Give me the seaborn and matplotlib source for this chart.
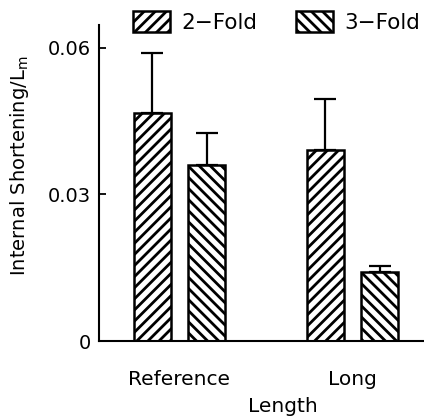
import pandas as pd
import numpy as np
import seaborn as sns
import matplotlib.pyplot as plt

# ===============================================================
# Dados
# ===============================================================

lengths = ["Reference", "Long"]
folds = ["2\u2212Fold", "3\u2212Fold"]
hatches = ["///", "\\\\\\"]

mean_2fold = [0.0467, 0.0391]
mean_3fold = [0.0360, 0.0141]
err_2fold = [0.0123, 0.0105]
err_3fold = [0.0066, 0.0013]

y_ticks = [0, 0.03, 0.06]
y_ticklabels = ["0", "0.03", "0.06"]

df = pd.DataFrame({
    "Length": lengths * 2,
    "Fold": [folds[0]] * 2 + [folds[1]] * 2,
    "value": mean_2fold + mean_3fold,
})
errs = [err_2fold, err_3fold]

# ===============================================================
# Estilo
# ===============================================================

sns.set_style("ticks")
plt.rcParams["font.family"] = ["DejaVu Sans"]
plt.rcParams["hatch.linewidth"] = 2.0
plt.rcParams["axes.linewidth"] = 1.5
for k in ["text.color", "axes.labelcolor", "xtick.color", "ytick.color",
          "axes.edgecolor"]:
    plt.rcParams[k] = "black"

fig = plt.figure(figsize=(4.24, 4.19), dpi=100)
ax = fig.add_axes([99 / 424, 78 / 419, 325 / 424, 316 / 419])

sns.barplot(data=df, x="Length", y="value", hue="Fold", hue_order=folds,
            order=lengths, palette=["white", "white"], edgecolor="black",
            linewidth=1.8, width=0.625, gap=0.315, errorbar=None,
            legend=False, ax=ax)

# hachuras + barras de erro (só para cima)
for cont, hatch, err in zip(ax.containers, hatches, errs):
    xs, ys = [], []
    for bar in cont:
        bar.set_hatch(hatch)
        xs.append(bar.get_x() + bar.get_width() / 2)
        ys.append(bar.get_height())
    ax.errorbar(xs, ys, yerr=[np.zeros(len(err)), err], fmt="none",
                ecolor="black", elinewidth=1.6, capsize=8, capthick=1.6,
                zorder=1)

ax.set_xlim(-0.465, 1.413)
ax.set_ylim(0, 0.0647)
ax.set_yticks(y_ticks)
ax.set_yticklabels(y_ticklabels)
ax.tick_params(axis="y", direction="in", length=5, width=1.3, pad=6,
               labelsize=14)
ax.tick_params(axis="x", length=0, pad=21, labelsize=14.5)

sns.despine(ax=ax)
ax.spines["bottom"].set_clip_on(False)

ax.set_xlabel("Length", fontsize=14.5)
ax.xaxis.set_label_coords(0.566, -0.177)
ax.set_ylabel("Internal Shortening/L$_\\mathregular{m}$", fontsize=14)
ax.yaxis.set_label_coords(-0.21, 0.554)

ax.legend(handles=[c[0] for c in ax.containers], labels=folds,
          loc="upper left", bbox_to_anchor=(133 / 424, 1 - 11 / 419),
          bbox_transform=fig.transFigure, ncol=2, frameon=False,
          borderpad=0, borderaxespad=0, handlelength=1.7,
          handleheight=1.1, handletextpad=0.55, columnspacing=1.8,
          fontsize=15.5)

fig.savefig("out.png", dpi=100)
